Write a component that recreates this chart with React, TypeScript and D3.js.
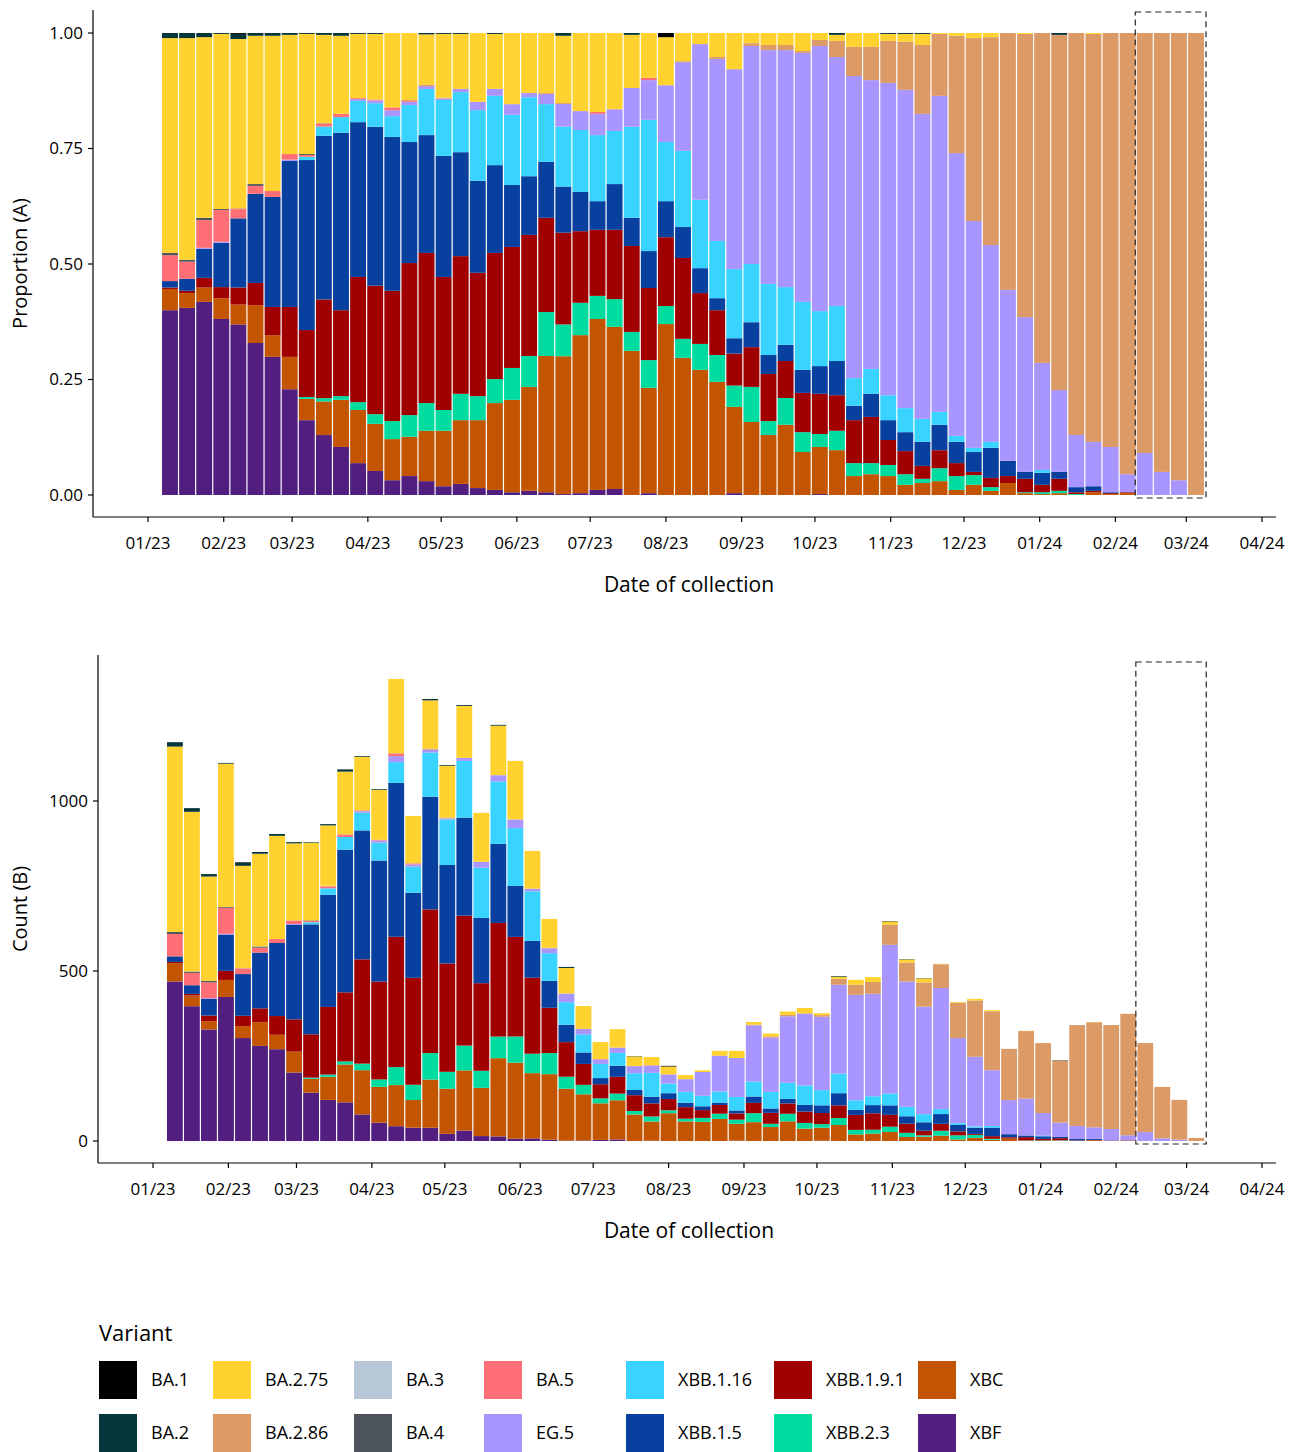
import React from "react";
import * as d3 from "d3";

const variants = ["BA.1","BA.2","BA.2.75","BA.2.86","BA.3","BA.4","BA.5","EG.5","XBB.1.16","XBB.1.5","XBB.1.9.1","XBB.2.3","XBC","XBF"];
const colors = ["#000000","#04363a","#ffd230","#dc9a66","#b8c7d8","#4d545c","#ff6f75","#a896fe","#38d4ff","#0840a0","#a00000","#00dca0","#c45500","#521e80"];

const totals = [1173,979,785,1112,820,850,903,879,879,932,1093,1132,1035,1359,956,1300,1106,1282,965,1224,1118,853,653,512,397,291,329,250,247,221,194,208,265,265,350,316,381,391,376,485,474,482,647,535,479,521,409,418,385,271,324,288,238,341,350,341,374,288,159,121,9];

const pXBF = [40.0,40.5,41.8,38.1,37.0,32.9,29.9,22.9,16.2,13.0,10.4,6.9,5.2,3.2,4.1,3.0,1.9,2.4,1.5,1.1,0.6,0.9,0.6,0.2,0.4,1.1,1.3,0,0.4,0,0,0,0,0.4,0,0,0,0,0.2,0,0,0,0,0,0,0,0,0,0,0,0,0,0,0,0,0,0,0,0,0,0];
const pXBC = [4.6,3.2,3.1,4.5,4.3,8.2,4.7,7.0,4.6,7.3,10.2,11.5,10.2,8.9,8.5,10.9,12.0,13.8,14.7,18.8,20.0,22.5,29.5,29.9,34.2,37.0,35.1,31.2,22.8,37.0,29.7,27.1,24.5,18.6,15.8,13.0,15.2,9.3,10.2,9.7,4.1,4.5,4.1,2.2,2.6,3.0,1.1,2.2,0.9,2.6,0.4,0.2,0.4,0,0.6,0.2,0.4,0,0,0,0];
const pXBB23 = [0,0,0,0,0,0,0,0,0.4,0.7,0.8,1.7,2.1,3.9,4.7,6.0,4.5,5.7,5.2,5.2,6.9,6.7,9.5,6.9,7.0,5.0,6.0,4.1,6.0,3.9,4.1,5.6,5.8,4.6,7.6,3.0,5.8,4.3,2.8,4.2,2.8,2.4,2.4,2.3,0.9,2.8,3.0,2.1,0.8,0,0.2,0.4,0.5,0.2,0,0,0,0,0,0,0];
const pXBB191 = [0.3,0.5,2.1,2.4,3.7,4.8,6.1,10.8,14.5,21.4,18.6,27.1,27.8,28.2,32.9,32.5,28.8,29.8,26.7,27.3,26.2,26.2,20.4,19.9,15.5,14.3,15.0,18.6,15.6,14.9,17.5,11.0,9.7,6.9,8.6,10.2,8.0,8.5,8.7,7.7,9.3,10.0,5.4,5.0,2.8,3.9,2.8,0.7,2.0,1.5,2.9,1.6,2.6,0.4,0.3,0.2,0.2,0,0,0,0];
const pXBB15 = [1.4,2.6,6.3,9.6,15.0,19.3,23.8,31.6,36.8,35.5,38.4,33.5,34.4,33.3,26.2,25.5,26.2,22.5,19.9,19.0,13.4,12.7,12.1,10.0,8.5,6.2,9.9,6.1,8.0,7.8,6.7,5.4,2.6,3.3,5.4,4.1,3.5,5.0,6.0,7.4,3.1,5.0,4.3,4.1,5.2,5.5,4.6,4.3,6.5,3.3,1.5,2.6,1.5,1.1,1.0,0.2,0,0,0,0,0];
const pXBB116 = [0,0,0,0,0,0,0,0,0.7,2.0,3.4,4.6,5.1,4.5,8.0,10.0,12.1,13.0,15.3,15.0,15.2,17.1,12.5,13.0,13.4,14.3,11.5,19.7,28.4,12.8,16.5,14.8,12.4,14.9,12.6,15.4,12.5,14.7,11.9,11.9,6.0,5.4,5.4,5.2,5.0,2.8,1.3,0.9,1.3,0,0,0.6,0,0,0,0,0,0,0,0,0];
const pEG5 = [0,0,0.2,0.2,0,0,0,0.3,0,0,0,0.4,0.6,1.3,0.7,0.6,0.3,0.7,1.8,1.5,2.3,0.9,2.2,4.9,4.1,4.6,4.7,8.4,8.6,12.3,19.2,33.7,39.4,43.1,47.2,50.6,51.3,53.9,57.4,53.9,65.4,62.5,67.6,68.9,66.0,68.4,61.2,49.1,42.6,37.0,33.5,23.2,17.7,11.3,9.6,9.8,3.9,9.1,5.0,3.2,0];
const pBA5 = [5.6,3.7,6.0,6.9,2.0,1.7,1.3,1.2,0.4,0.6,0.7,0.2,0.2,0.6,0.2,0,0,0,0,0,0,0,0,0,0,0.4,0,0,0.5,0,0,0,0,0,0,0,0,0,0,0,0,0,0,0,0,0,0,0,0,0,0,0,0,0,0,0,0,0,0,0,0];
const pBA4 = [0.5,0.4,0.5,0.2,0,0.4,0,0,0.2,0,0,0,0,0,0,0,0,0,0,0,0,0,0,0,0,0,0,0,0,0,0,0,0,0,0,0,0,0,0,0,0,0,0,0,0,0,0,0,0,0,0,0,0,0,0,0,0,0,0,0,0];
const pBA3 = [0,0,0,0,0,0,0,0,0,0,0,0,0,0,0,0,0,0,0,0,0,0,0,0,0,0,0,0,0,0,0,0,0,0,0,0,0,0,0,0,0,0,0,0,0,0,0,0,0,0,0,0,0,0,0,0,0,0,0,0,0];
const pBA286 = [0,0,0,0,0.2,0,0,0,0,0.2,0,0,0,0,0.2,0.3,0.2,0,0,0,0,0,0.2,0.2,0,0,0,0,0,0,0.2,0,0.4,0,0.6,1.1,1.1,0.4,1.3,3.5,6.3,7.2,9.1,10.4,14.9,13.4,25.4,39.6,45.0,55.6,61.3,71.4,76.9,87.0,88.3,89.6,95.5,90.9,95.0,96.8,100];
const pBA275 = [46.5,48.0,39.1,37.9,36.7,32.1,33.6,25.8,26.0,19.1,16.9,13.9,14.2,16.1,14.5,10.9,13.8,11.9,14.9,11.9,15.4,13.0,13.0,14.6,16.9,17.1,16.5,11.5,9.7,10.4,6.1,2.4,5.2,7.8,2.2,2.6,2.6,3.9,1.5,1.3,3.0,3.0,1.5,1.7,2.4,0.2,0.6,1.1,0.9,0,0.2,0,0,0,0.2,0,0,0,0,0,0];
const pBA2 = [1.1,1.1,0.9,0.2,1.1,0.6,0.6,0.4,0.2,0.4,0.6,0.2,0.2,0,0,0.3,0.2,0.2,0,0.2,0,0,0,0.6,0,0,0,0.4,0,0,0,0,0,0,0,0,0,0,0,0.4,0,0,0.2,0.2,0.2,0,0,0,0,0,0,0,0.4,0,0,0,0,0,0,0,0];
const pBA1 = [0,0,0,0,0.2,0,0,0,0,0,0,0,0,0,0,0,0,0,0,0,0,0,0,0,0,0,0,0,0,0.9,0,0,0,0,0,0,0,0,0,0,0,0,0,0,0,0,0,0,0,0,0,0,0,0,0,0,0,0,0,0];

const shares: Record<string, number[]> = {
  "BA.1": pBA1, "BA.2": pBA2, "BA.2.75": pBA275, "BA.2.86": pBA286, "BA.3": pBA3, "BA.4": pBA4, "BA.5": pBA5,
  "EG.5": pEG5, "XBB.1.16": pXBB116, "XBB.1.5": pXBB15, "XBB.1.9.1": pXBB191, "XBB.2.3": pXBB23, "XBC": pXBC, "XBF": pXBF,
};

const firstWeek = new Date(2023, 0, 10);
const weeks = totals.map((_, i) => d3.timeDay.offset(firstWeek, 7 * i));
const monthTicks = d3.timeMonth.range(new Date(2023, 0, 1), new Date(2024, 3, 2));
const fmt = d3.timeFormat("%m/%y");
const FONT = "'Open Sans', 'Noto Sans', sans-serif";

const stackOrder = [...variants].reverse();

function rows(mode: "prop" | "count") {
  return weeks.map((w, i) => {
    const sum = variants.reduce((s, v) => s + (shares[v][i] || 0), 0) || 1;
    const r: any = { week: w };
    variants.forEach((v) => {
      const p = (shares[v][i] || 0) / sum;
      r[v] = mode === "prop" ? p : p * totals[i];
    });
    return r;
  });
}

function Panel({ mode, top, bottom, left, x0, title, yTicks, yFmt, yMax, boxTop }: any) {
  const x = d3.scaleTime().domain([new Date(2023, 0, 1), new Date(2024, 3, 1)]).range([x0, 1262]);
  const zeroY = bottom - 22;
  const y = d3.scaleLinear().domain([0, yMax.v]).range([zeroY, yMax.px]);
  const data = rows(mode);
  const series = d3.stack<any>().keys(stackOrder)(data);
  const bw = (x(d3.timeDay.offset(firstWeek, 7)) - x(firstWeek)) * 0.93;
  const cIdx = (k: string) => colors[variants.indexOf(k)];
  const bx0 = x(weeks[57]) - bw / 2 - 1.5;
  const bx1 = x(weeks[60]) + bw / 2 + 2;
  return (
    <g>
      {series.map((s) => (
        <g key={s.key} fill={cIdx(s.key)}>
          {s.map((d, i) =>
            d[1] - d[0] > 0 ? (
              <rect key={i} x={x(weeks[i]) - bw / 2} width={bw} y={y(d[1])} height={Math.max(0, y(d[0]) - y(d[1]))} />
            ) : null
          )}
        </g>
      ))}
      <rect x={bx0} width={bx1 - bx0} y={boxTop} height={zeroY + 3 - boxTop} fill="none" stroke="#222" strokeWidth={1.2} strokeDasharray="6,4" />
      <line x1={left} x2={left} y1={top} y2={bottom} stroke="#000" strokeWidth={1.2} />
      <line x1={left} x2={1276} y1={bottom} y2={bottom} stroke="#000" strokeWidth={1.2} />
      {yTicks.map((t: number) => (
        <g key={t}>
          <line x1={left - 5} x2={left} y1={y(t)} y2={y(t)} stroke="#000" strokeWidth={1.2} />
          <text x={left - 10} y={y(t)} dy="0.35em" textAnchor="end" fontSize={17} fontFamily={FONT}>{yFmt(t)}</text>
        </g>
      ))}
      {monthTicks.map((t) => (
        <g key={+t}>
          <line x1={x(t)} x2={x(t)} y1={bottom} y2={bottom + 5} stroke="#000" strokeWidth={1.2} />
          <text x={x(t)} y={bottom + 32} textAnchor="middle" fontSize={17} fontFamily={FONT}>{fmt(t)}</text>
        </g>
      ))}
      <text x={689} y={bottom + 75} textAnchor="middle" fontSize={21} fontFamily={FONT}>Date of collection</text>
      <text transform={`translate(27,${(top + bottom) / 2}) rotate(-90)`} textAnchor="middle" fontSize={20} fontFamily={FONT}>{title}</text>
    </g>
  );
}

export default function App() {
  const legendCols = [99, 213, 354, 484, 626, 774, 918];
  return (
    <svg width={1301} height={1452} style={{ position: "absolute", left: 0, top: 0 }}>
      <rect width={1301} height={1452} fill="#fff" />
      <Panel mode="prop" top={10} bottom={517} left={93} x0={148} title="Proportion (A)"
        yTicks={[0, 0.25, 0.5, 0.75, 1]} yFmt={d3.format(".2f")} yMax={{ v: 1, px: 33 }} boxTop={12} />
      <Panel mode="count" top={655} bottom={1163} left={98} x0={153} title="Count (B)"
        yTicks={[0, 500, 1000]} yFmt={(t: number) => String(t)} yMax={{ v: 1000, px: 801 }} boxTop={662} />
      <text x={99} y={1341} fontSize={22} fontFamily={FONT}>Variant</text>
      {variants.map((v, i) => {
        const col = Math.floor(i / 2), row = i % 2;
        const lx = legendCols[col], ly = 1361 + row * 53;
        return (
          <g key={v}>
            <rect x={lx} y={ly} width={38} height={38} fill={colors[i]} />
            <text x={lx + 52} y={ly + 19} dy="0.35em" fontSize={18} fontFamily={FONT}>{v}</text>
          </g>
        );
      })}
    </svg>
  );
}
